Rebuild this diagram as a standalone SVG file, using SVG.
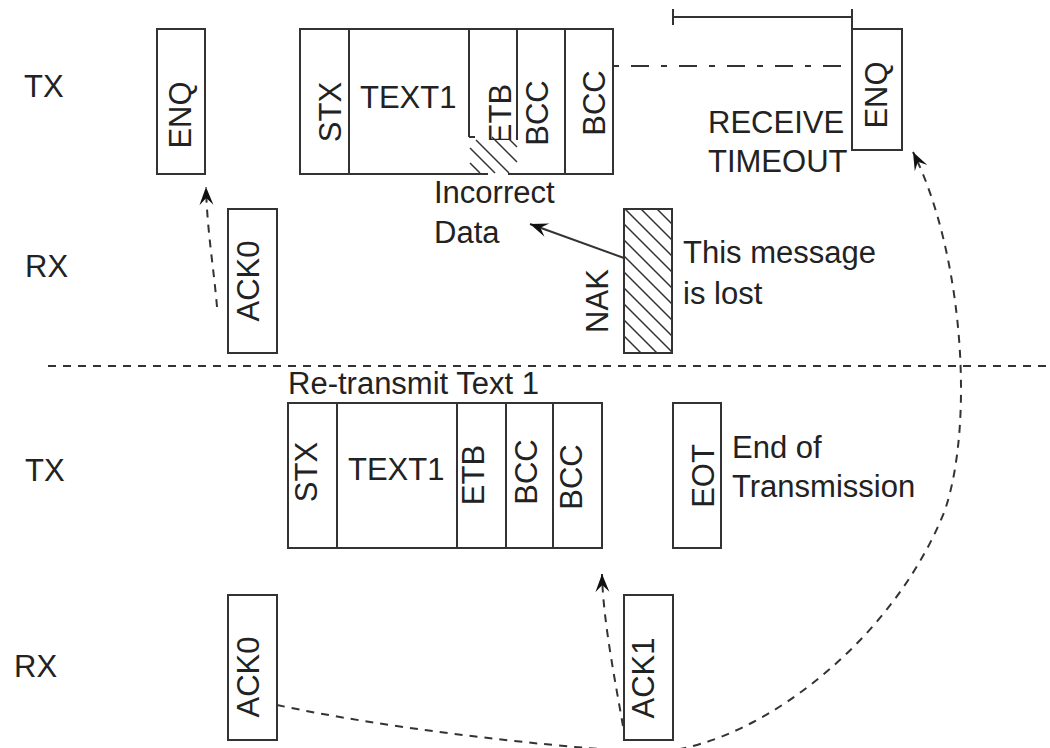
<svg xmlns="http://www.w3.org/2000/svg" width="1050" height="748" viewBox="0 0 1050 748">
<style>
.bx{fill:none;stroke:#333;stroke-width:2}
.ln{fill:none;stroke:#333;stroke-width:2}
.t{font-family:"Liberation Sans",Arial,sans-serif;font-size:31px;fill:#222}
.r{text-anchor:middle}
.dash{fill:none;stroke:#333;stroke-width:2;stroke-dasharray:8 7}
.hl{stroke:#333;stroke-width:1.5}
</style>
<defs>
<pattern id="hatch" patternUnits="userSpaceOnUse" width="16" height="16">
<path d="M-4,-4 L20,20 M-4,12 L4,20 M12,-4 L20,4" stroke="#333" stroke-width="1.5"/>
</pattern>
<marker id="ah" viewBox="-19 -9 20 18" refX="0" refY="0" markerWidth="20" markerHeight="18" markerUnits="userSpaceOnUse" orient="auto">
<path d="M0,0 L-18,-7 L-11,0 L-18,7 Z" fill="#111"/>
</marker>
</defs>

<g id="labels">
<text class="t" x="24" y="97">TX</text>
<text class="t" x="25" y="277">RX</text>
<text class="t" x="25" y="481">TX</text>
<text class="t" x="14" y="677">RX</text>
</g>

<g id="enq1">
<rect class="bx" x="157" y="29" width="48" height="145"/>
<text class="t r" transform="translate(191,115) rotate(-90)">ENQ</text>
</g>

<g id="frame1">
<path class="ln" d="M469,137 L469,29 L300,29 L300,174 L488,174 M508,174 L613,174 L613,29 L469,29 M349,29 L349,174 M517,29 L517,140 M565,29 L565,174"/>
<path class="ln" d="M469,137 L475,137"/>
<text class="t" x="360" y="108">TEXT1</text>
<text class="t r" transform="translate(341,112) rotate(-90)">STX</text>
<text class="t r" transform="translate(511,114) rotate(-90)">ETB</text>
<text class="t r" transform="translate(548,113) rotate(-90)">BCC</text>
<text class="t r" transform="translate(605,103) rotate(-90)">BCC</text>
<rect x="468" y="140" width="48" height="33" fill="#fff"/>
<path class="hl" d="M470,163 L480,173 M470,148 L495,173 M476,140 L509,173 M492,137 L517,162 M509,139 L517,147"/>
</g>

<g id="enq2">
<rect class="bx" x="852" y="29" width="50" height="121"/>
<text class="t r" transform="translate(887,95) rotate(-90)">ENQ</text>
<text class="t" x="708" y="133">RECEIVE</text>
<text class="t" x="708" y="172">TIMEOUT</text>
<path class="ln" d="M673,9 L673,25 M673,17 L852,17 M852,9 L852,29"/>
</g>

<g id="incorrect">
<text class="t" x="434" y="203">Incorrect</text>
<text class="t" x="434" y="243">Data</text>
</g>

<g id="ack0a">
<rect class="bx" x="228" y="209" width="49" height="144"/>
<text class="t r" transform="translate(259,281) rotate(-90)">ACK0</text>
</g>

<g id="nak">
<rect x="624" y="209" width="48" height="144" fill="url(#hatch)" stroke="#333" stroke-width="2"/>
<text class="t r" transform="translate(608,301) rotate(-90)">NAK</text>
<text class="t" x="683" y="263">This message</text>
<text class="t" x="683" y="304">is lost</text>
</g>

<g id="retx">
<text class="t" x="288" y="394">Re-transmit Text 1</text>
<rect class="bx" x="288" y="403" width="314" height="145"/>
<path class="ln" d="M337,403 L337,548 M457,403 L457,548 M506,403 L506,548 M553,403 L553,548"/>
<text class="t" x="348" y="480">TEXT1</text>
<text class="t r" transform="translate(317,472) rotate(-90)">STX</text>
<text class="t r" transform="translate(484,475) rotate(-90)">ETB</text>
<text class="t r" transform="translate(537,472) rotate(-90)">BCC</text>
<text class="t r" transform="translate(582,477) rotate(-90)">BCC</text>
</g>

<g id="eot">
<rect class="bx" x="673" y="403" width="48" height="145"/>
<text class="t r" transform="translate(714,476) rotate(-90)">EOT</text>
<text class="t" x="732" y="458">End of</text>
<text class="t" x="732" y="497">Transmission</text>
</g>

<g id="ack0b">
<rect class="bx" x="228" y="595" width="49" height="145"/>
<text class="t r" transform="translate(259,677) rotate(-90)">ACK0</text>
</g>

<g id="ack1">
<rect class="bx" x="624" y="595" width="49" height="145"/>
<text class="t r" transform="translate(654,678) rotate(-90)">ACK1</text>
</g>

<g id="connectors">
<path d="M613,66 L852,66" fill="none" stroke="#333" stroke-width="2" stroke-dasharray="6 12 18 12"/>
<path d="M48,366 L1050,366" class="dash"/>
<path d="M217,307 C214,270 207,230 206,187" class="dash" marker-end="url(#ah)"/>
<path d="M623,726 C615,680 603,620 602,574" class="dash" marker-end="url(#ah)"/>
<path d="M624,258 L530,224" class="ln" marker-end="url(#ah)"/>
<path d="M277,705 C380,727 530,745 640,752 C740,758 890,650 945,510 C975,420 962,250 913,152" class="dash" marker-end="url(#ah)"/>
</g>
</svg>
